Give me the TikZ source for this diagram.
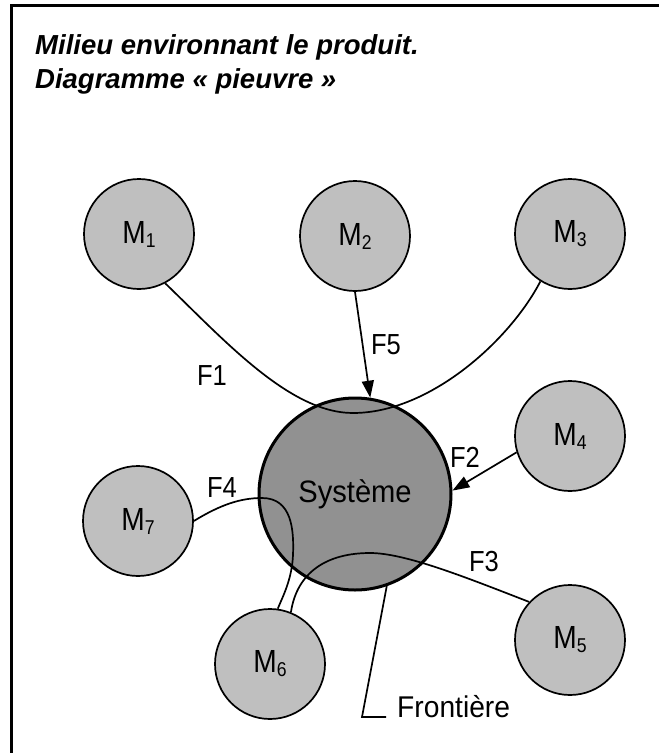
\documentclass[tikz,border=0pt]{standalone}
\usepackage{fontspec}
\setmainfont{Liberation Sans}
\newfontfamily\condf[FakeStretch=0.88]{Liberation Sans}
\newfontfamily\semif[FakeStretch=0.94]{Liberation Sans}
\usetikzlibrary{arrows.meta}
\definecolor{mgray}{gray}{0.75}
\definecolor{sgray}{gray}{0.57}
\newcommand{\msub}[1]{M\raisebox{-4pt}{\fontsize{20}{20}\selectfont #1}}
\begin{document}
\begin{tikzpicture}[x=1pt,y=-1pt,
  env/.style={circle, draw=black, line width=1.7pt, fill=mgray, minimum size=110pt, inner sep=0pt, font=\condf\fontsize{32}{32}\selectfont},
  sys/.style={circle, draw=black, line width=3pt, fill=sgray, minimum size=192pt, inner sep=0pt, font=\semif\fontsize{31}{31}\selectfont},
  conn/.style={line width=1.7pt},
  flab/.style={font=\condf\fontsize{29}{29}\selectfont, inner sep=0pt},
  arr/.style={conn, -{Triangle[length=17pt,width=12pt]}},
  titl/.style={anchor=base west, inner sep=0pt, font=\fontsize{27.5}{33}\selectfont\bfseries\itshape},
]
\useasboundingbox (0,0) rectangle (659,753);
\fill[white] (0,0) rectangle (659,753);
\draw[line width=3pt] (11,753) -- (11,5) -- (659,5);
\node[titl] (t1) at (35,54) {Milieu environnant le produit.};
\node[titl] (t2) at (35,88) {Diagramme «~pieuvre~»};
% nodes
\node[env] (M1) at (139,234) {\msub{1}};
\node[env] (M2) at (355,236) {\msub{2}};
\node[env] (M3) at (570,234) {\msub{3}};
\node[env] (M4) at (570,436) {\msub{4}};
\node[env] (M5) at (570,640) {\msub{5}};
\node[env] (M6) at (270,664) {\msub{6}};
\node[env] (M7) at (138,521) {\msub{7}};
\node[sys] (S) at (355,494) {Système};
% connectors
\draw[conn] (M1.-62) .. controls (225,341) and (290,413) .. (353,413)
            .. controls (430,413) and (510,340) .. (M3.-122);
\draw[arr] (M2.south) -- (S.81);
\draw[arr] (M4.197) -- (S.2);
\draw[conn] (M5.137) .. controls (465,577) and (405,553) .. (370,553)
            .. controls (327,553) and (297,572) .. (M6.68);
\draw[conn] (M7.0) .. controls (220,505) and (240,498) .. (262,498)
            .. controls (292,498) and (294,530) .. (293,555)
            .. controls (292,580) and (282,598) .. (M6.82);
% frontiere
\node[anchor=base west, inner sep=0pt, font=\semif\fontsize{30}{30}\selectfont] (front) at (397,717) {Frontière};
\coordinate (fc) at (362,717);
\coordinate (fe) at (386,717);
\draw[conn] (S.-71) -- (fc) -- (fe);
% labels
\node[flab] (lF1) at (212,376) {F1};
\node[flab] (lF5) at (386,345) {F5};
\node[flab] (lF2) at (465,457) {F2};
\node[flab] (lF3) at (484,562) {F3};
\node[flab] (lF4) at (222,488) {F4};
\end{tikzpicture}
\end{document}
